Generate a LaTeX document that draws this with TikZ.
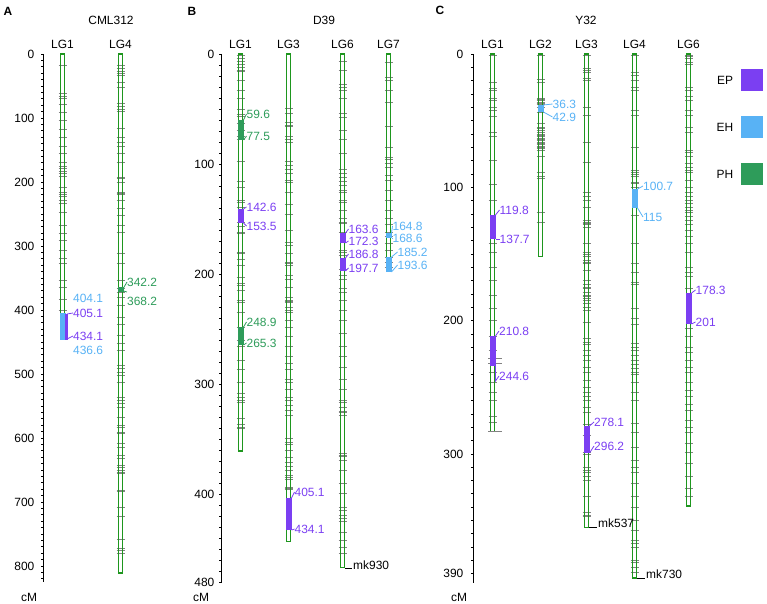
\documentclass[tikz,border=0pt]{standalone}
\usepackage{fontspec}
\setmainfont{Liberation Sans}
\definecolor{ep}{RGB}{123,63,242}
\definecolor{eh}{RGB}{88,178,245}
\definecolor{ph}{RGB}{46,156,90}
\definecolor{chrg}{RGB}{30,150,30}
\definecolor{mkg}{RGB}{130,130,130}
\tikzset{
  chr/.style={draw=chrg, line width=1.3bp},
  mkline/.style={draw=mkg, line width=0.6bp},
  lab/.style={font=\fontsize{12}{14}\selectfont, inner sep=0pt},
  qlab/.style={lab, anchor=west},
  axisline/.style={line width=1.2bp},
  axistick/.style={line width=0.8bp},
  conn/.style={line width=0.8bp},
}
% chromosome: x, scale, length (cM), marker list (cM)
\newcommand\Chrom[4]{%
  \foreach \m in {#4} \draw[mkline] ({#1-4},{54+#2*\m}) -- ({#1+4},{54+#2*\m});
  \draw[chr] ({#1-2},54) rectangle ({#1+2},{54+#2*#3});
}
% axis: x, scale, length, last tick, label list, label gap, name prefix
\newcommand\Axis[7]{%
  \draw[axisline] (#1,54) -- (#1,{54+#2*#3});
  \foreach \t in {0,10,...,#4} \draw[axistick] (#1,{54+#2*\t}) -- ({#1-3},{54+#2*\t});
  \foreach \t in {#5} \node[lab, anchor=east] (#7\t) at ({#1-#6},{54+#2*\t}) {\t};
}
\def\qoff{6}
% qtl: colour, x, y1, y2, label y1, label y2, text1, text2, name
\newcommand\Qtl[9]{%
  \fill[#1] ({#2-3},#3) rectangle ({#2+3},#4);
  \node[qlab, text=#1] (#9a) at ({#2+\qoff},#5) {#7};
  \node[qlab, text=#1] (#9b) at ({#2+\qoff},#6) {#8};
  \draw[#1, conn] ({#2+3},#3) -- (#9a.west);
  \draw[#1, conn] ({#2+3},#4) -- (#9b.west);
}
\begin{document}
\begin{tikzpicture}[x=1bp, y=-1bp]
\useasboundingbox (0,0) rectangle (767,604);

% ---------------- Panel A ----------------
\node[lab, font=\fontsize{12}{14}\selectfont\bfseries] (letA) at (8,11) {A};
\node[lab] (titA) at (111,20) {CML312};
\node[lab] (lgA1) at (62.5,44) {LG1};
\node[lab] (lgA4) at (120.5,44) {LG4};
\Axis{43.5}{0.64}{825}{820}{0,100,200,300,400,500,600,700,800}{9}{axA}
\node[lab] (cmA) at (29,597) {cM};
\Chrom{62.5}{0.64}{440.6}{18,61,66,70,78,91,104,117,130,144,155,170,175,178,183,186,191,209,216,219,223,228,233,248,267,280,291,306,319,327,353,364,384,400}
\Chrom{120.5}{0.64}{811}{17,23,27,30,34,45,52,77,81,86,89,116,130,138,145,155,170,192,195,200,216,217,220,228,241,252,267,278,311,327,353,366,372,380,392,411,423,439,452,463,486,491,497,502,513,536,541,545,552,567,580,583,584,591,592,608,614,627,631,642,645,650,653,655,681,684,708,723,759,772,775,780}
% A LG1 EH / EP
\fill[eh] (59.5,313) rectangle (66,340);
\fill[ep] (64.5,314) rectangle (67.5,340);
\node[qlab, text=eh] (aeh1) at (73,298) {404.1};
\node[qlab, text=ep] (aep1) at (73,313) {405.1};
\node[qlab, text=ep] (aep2) at (73,336) {434.1};
\node[qlab, text=eh] (aeh2) at (73,350) {436.6};
\draw[ep, conn] (67,314) -- (aep1.west);
\draw[ep, conn] (67,339) -- (aep2.west);
% A LG4 PH
\fill[ph] (117.5,287) rectangle (123.5,292);
\node[qlab, text=ph] (aph1) at (127,282) {342.2};
\node[qlab, text=ph] (aph2) at (127,301) {368.2};
\draw[ph, conn] (123.5,288) -- (aph1.west);
\draw[ph, conn] (123.5,291) -- (127,292);

% ---------------- Panel B ----------------
\node[lab, font=\fontsize{12}{14}\selectfont\bfseries] (letB) at (192,11) {B};
\node[lab] (titB) at (324,20) {D39};
\node[lab] (lgB1) at (240.5,44) {LG1};
\node[lab] (lgB3) at (288.5,44) {LG3};
\node[lab] (lgB6) at (342.5,44) {LG6};
\node[lab] (lgB7) at (388.5,44) {LG7};
\Axis{221.5}{1.1}{480}{480}{0,100,200,300,400,480}{7}{axB}
\node[lab] (cmB) at (201,597) {cM};
\Chrom{240.5}{1.1}{361}{1,4,7,9,12,15,16,24,33,40,50,55,57,63,69,75,78,98,116,121,133,135,139,153,157,162,163,180,181,187,192,203,208,210,215,224,226,235,248,260,266,278,287,298,308,312,315,317,331,337,339,340}
\Chrom{288.5}{1.1}{443}{49,54,62,65,66,75,78,80,98,101,105,108,115,117,126,137,146,160,171,174,181,189,190,192,201,205,212,221,224,225,226,230,233,235,242,248,257,266,275,281,287,296,298,305,312,315,319,324,328,349,353,355,360,367,371,375,378,383,385,387,394,395,396}
\Chrom{342.5}{1.1}{467}{7,15,28,30,33,40,54,58,69,78,90,105,108,112,116,119,124,126,133,135,142,149,153,154,162,178,180,183,196,201,205,213,217,224,233,242,254,266,275,285,296,305,315,317,321,325,326,328,363,365,366,369,378,390,399,412,415,419,422,425,435,442,448,454}
\Chrom{388.5}{1.1}{198}{8,21,24,33,44,66,85,94,96,99,103,110,115,124,133,142,149,155,162,166,172,178,185,189,194}
\Qtl{ph}{240.5}{120}{140}{114}{136}{59.6}{77.5}{bq1}
\Qtl{ep}{240.5}{209}{223}{207}{226}{142.6}{153.5}{bq2}
\Qtl{ph}{240.5}{327}{345}{322}{343}{248.9}{265.3}{bq3}
\Qtl{ep}{288.5}{498}{530}{492}{529}{405.1}{434.1}{bq4}
\Qtl{ep}{342.5}{233}{243}{229}{241}{163.6}{172.3}{bq5}
\Qtl{ep}{342.5}{258}{271}{254}{268}{186.8}{197.7}{bq6}
\def\qoff{4}
\Qtl{eh}{388.5}{233}{238}{226}{238}{164.8}{168.6}{bq7}
\def\qoff{9}
\Qtl{eh}{388.5}{257}{272}{252}{265}{185.2}{193.6}{bq8}
\node[qlab] (mk930) at (353,565) {mk930};
\draw[conn] (344.5,568) -- (352,568);

% ---------------- Panel C ----------------
\node[lab, font=\fontsize{12}{14}\selectfont\bfseries] (letC) at (440,10) {C};
\node[lab] (titC) at (586,20) {Y32};
\node[lab] (lgC1) at (492.5,44) {LG1};
\node[lab] (lgC2) at (540.5,44) {LG2};
\node[lab] (lgC3) at (586.5,44) {LG3};
\node[lab] (lgC4) at (634.5,44) {LG4};
\node[lab] (lgC6) at (688.5,44) {LG6};
\Axis{473.5}{1.333}{397}{390}{0,100,200,300,390}{10}{axC}
\node[lab] (cmC) at (459,597) {cM};
\Chrom{492.5}{1.333}{283}{1,21,26,27,33,35,40,42,47,59,62,80,98,110,142,149,160,170,181,191,200,212,222,228,232,239,246,254,260,272,276}
\Chrom{540.5}{1.333}{152}{1,19,21,33,34,35,36,37,38,40,44,52,55,56,57,59,60,61,62,63,64,65,66,67,68,69,70,71,72,77,89,92,93,119,126}
\Chrom{586.5}{1.333}{355}{1,11,12,14,18,20,40,46,66,81,104,107,110,115,125,126,127,128,130,142,149,150,152,155,156,157,162,170,173,175,176,179,181,182,183,185,187,190,192,201,213,216,218,222,226,230,235,239,245,250,254,257,260,265,269,278,286,299,300,310,312,314,317,320,332,344,346,347}
\Chrom{634.5}{1.333}{393}{1,14,16,20,25,27,42,46,70,87,89,90,92,96,97,100,121,142,157,164,171,173,191,198,203,217,220,222,226,230,233,236,239,240,246,254,260,277,284,295,305,310,314,322,332,340,350,357,365,367,370,380,381,385,389}
\Chrom{688.5}{1.333}{339}{1,2,3,6,8,25,27,32,35,42,46,55,59,72,74,77,82,85,87,89,95,100,104,107,110,112,115,117,119,122,125,128,132,137,142,149,160,164,167,176,206,212,220,224,230,235,239,246,252,257,263,267,275,280,284,292,299,307,317,326,332}
\draw[mkline] (488,431) -- (502,431);
\draw[mkline] (488,358) -- (502,358);
\draw[mkline] (488,363) -- (502,363);
\def\qoff{7}
\Qtl{ep}{492.5}{215}{239}{210}{239}{119.8}{137.7}{cq1}
% C LG1 second EP interval
\fill[ep] (489.5,336) rectangle (495.5,366);
\node[qlab, text=ep] (cq2a) at (499,331) {210.8};
\node[qlab, text=ep] (cq2b) at (499,376) {244.6};
\draw[ep, conn] (495.5,336) -- (cq2a.west);
\draw[ep, conn] (495.5,366) -- (495.5,381) -- (cq2b.west);
\def\qoff{12}
\Qtl{eh}{540.5}{105}{112}{104}{117}{36.3}{42.9}{cq3}
\def\qoff{7.5}
\Qtl{ep}{586.5}{426}{453}{422}{446}{278.1}{296.2}{cq4}
\def\qoff{8.5}
\Qtl{eh}{634.5}{189}{208}{186}{217}{100.7}{115}{cq5}
\def\qoff{7}
\Qtl{ep}{688.5}{293}{324}{290}{322}{178.3}{201}{cq6}
\node[qlab] (mk537) at (598,523) {mk537};
\draw[conn] (588.5,527) -- (597,527);
\node[qlab] (mk730) at (646,574) {mk730};
\draw[conn] (636.5,578) -- (645,578);

% ---------------- Legend ----------------
\node[lab] (legEPt) at (725,80) {EP};
\node[lab] (legEHt) at (725,127) {EH};
\node[lab] (legPHt) at (725,174) {PH};
\node[fill=ep, inner sep=0pt, minimum width=22bp, minimum height=22bp] (legEP) at (752,80) {};
\node[fill=eh, inner sep=0pt, minimum width=22bp, minimum height=22bp] (legEH) at (752,127) {};
\node[fill=ph, inner sep=0pt, minimum width=22bp, minimum height=22bp] (legPH) at (752,174) {};
\end{tikzpicture}
\end{document}
